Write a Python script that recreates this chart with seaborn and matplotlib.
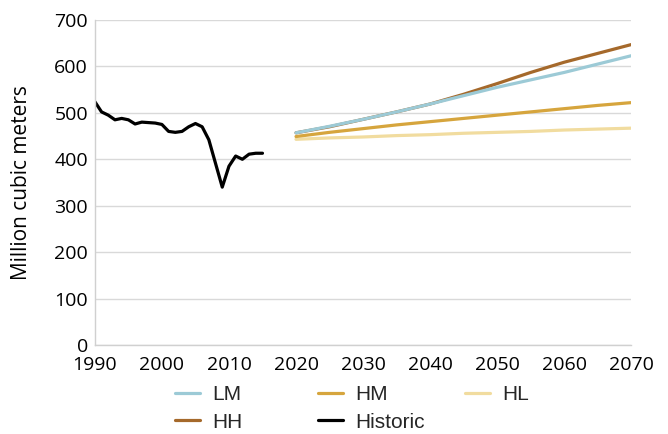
import matplotlib
matplotlib.use('Agg')
import matplotlib.pyplot as plt
import pandas as pd
import seaborn as sns

# historic series (annual)
hist_years = list(range(1990, 2016))
hist_vals = [524, 502, 495, 485, 488, 485, 476, 480, 479, 478, 475, 460, 458,
             460, 470, 477, 470, 442, 391, 340, 385, 407, 400, 411, 413, 413]

# projections
proj_years = list(range(2020, 2071, 5))
lm_vals = [457, 471, 486, 502, 519, 537, 555, 571, 587, 605, 623]
hh_vals = [457, 470, 486, 502, 519, 540, 563, 587, 609, 628, 647]
hm_vals = [449, 458, 466, 474, 481, 488, 495, 502, 509, 516, 522]
hl_vals = [443, 446, 448, 451, 453, 456, 458, 460, 463, 465, 467]

draw_order = ['HL', 'HM', 'HH', 'LM', 'Historic']
colors = {'LM': '#9ccad6', 'HH': '#a5692b', 'HM': '#d6a53d',
          'Historic': '#000000', 'HL': '#f1dc9f'}

frames = [pd.DataFrame({'year': hist_years, 'value': hist_vals, 'series': 'Historic'})]
for name, vals in [('LM', lm_vals), ('HH', hh_vals), ('HM', hm_vals), ('HL', hl_vals)]:
    frames.append(pd.DataFrame({'year': proj_years, 'value': vals, 'series': name}))
df = pd.concat(frames, ignore_index=True)

sns.set_style('white')
plt.rcParams['font.family'] = ['Open Sans', 'DejaVu Sans']

fig, ax = plt.subplots(figsize=(6.68, 4.34), dpi=100)
fig.subplots_adjust(left=0.142, right=0.945, top=0.954, bottom=0.205)

sns.lineplot(data=df, x='year', y='value', hue='series', hue_order=draw_order,
             palette=colors, linewidth=2.3, ax=ax, legend=False)

ax.set_xlim(1990, 2070)
ax.set_ylim(0, 700)
ax.set_xticks(range(1990, 2071, 10))
ax.set_yticks(range(0, 701, 100))
ax.tick_params(axis='both', labelsize=14, length=0, labelcolor='black')
ax.tick_params(axis='x', pad=8)
ax.tick_params(axis='y', pad=5)
ax.yaxis.grid(True, color='#d9d9d9', linewidth=1)
ax.set_axisbelow(True)
for s in ['top', 'right']:
    ax.spines[s].set_visible(False)
for s in ['left', 'bottom']:
    ax.spines[s].set_color('#d0d0d0')
    ax.spines[s].set_linewidth(1)
ax.set_xlabel('')
ax.set_ylabel('Million cubic meters', fontsize=15, labelpad=16, color='black')

# legend: three fixed-width columns like the source
handles = {k: plt.Line2D([], [], color=colors[k], linewidth=2.3) for k in colors}
legend_cols = [(['LM', 'HH'], 175), (['HM', 'Historic'], 318), (['HL'], 465)]
for names, xpix in legend_cols:
    fig.legend([handles[n] for n in names], names, loc='upper left',
               bbox_to_anchor=(xpix / 668, 1 - 385 / 434), frameon=False,
               prop={'family': 'Liberation Sans', 'size': 15},
               handlelength=1.2, handletextpad=0.58, labelspacing=0.42,
               borderpad=0, borderaxespad=0)

plt.savefig('out.png', dpi=100)
